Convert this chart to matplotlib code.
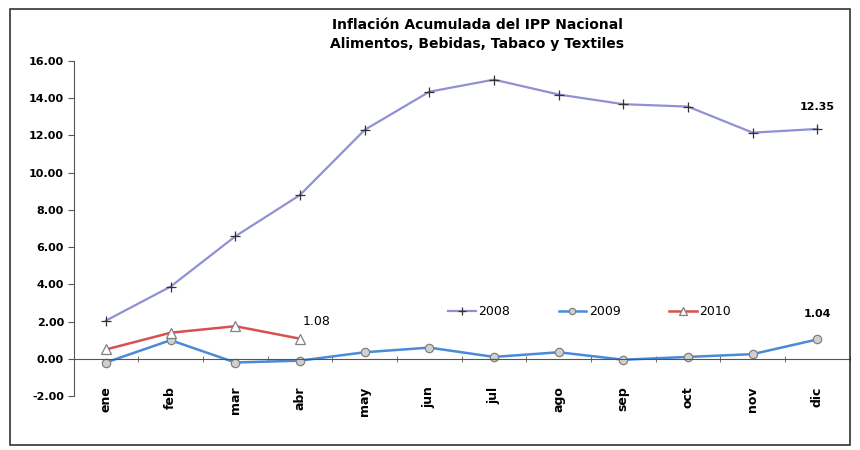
import numpy as np
import matplotlib.pyplot as plt
from matplotlib.patches import Rectangle

# data
meses = ["ene", "feb", "mar", "abr", "may", "jun", "jul", "ago", "sep", "oct", "nov", "dic"]
v2008 = [2.05, 3.88, 6.58, 8.80, 12.30, 14.35, 15.00, 14.20, 13.68, 13.55, 12.15, 12.35]
v2009 = [-0.20, 1.00, -0.20, -0.10, 0.35, 0.60, 0.10, 0.35, -0.05, 0.10, 0.25, 1.04]
v2010 = [0.50, 1.40, 1.75, 1.08]
yticks = np.arange(-2, 16.01, 2)

fig = plt.figure(figsize=(8.6, 4.5), dpi=100)
ax = fig.add_axes([0.0856, 0.12, 0.9024, 0.7444])

x = np.arange(len(meses))
ax.plot(x, v2008, color="#9090d4", lw=1.6, marker="+", ms=7, mec="#333333", mew=0.9, label="2008")
ax.plot(x, v2009, color="#4a8ad8", lw=1.8, marker="o", ms=6, mfc="#d0d0d0", mec="#808080", mew=0.9, label="2009")
ax.plot(x[:len(v2010)], v2010, color="#d95050", lw=1.8, marker="^", ms=7, mfc="white", mec="#808080", mew=0.9, label="2010")

# value labels
ax.annotate(f"{v2008[-1]:.2f}", (x[-1], v2008[-1]), xytext=(0, 14), textcoords="offset points",
            ha="center", fontsize=8, fontweight="bold")
ax.annotate(f"{v2010[-1]:.2f}", (x[len(v2010) - 1], v2010[-1]), xytext=(2, 10), textcoords="offset points",
            ha="left", fontsize=9)
ax.annotate(f"{v2009[-1]:.2f}", (x[-1], v2009[-1]), xytext=(0, 16), textcoords="offset points",
            ha="center", fontsize=8, fontweight="bold")

ax.set_xlim(-0.5, len(meses) - 0.5)
ax.set_ylim(-2, 16)
ax.set_yticks(yticks)
ax.set_yticklabels([f"{v:.2f}" for v in yticks], fontsize=8, fontweight="bold")

for s in ["top", "right"]:
    ax.spines[s].set_visible(False)
ax.spines["bottom"].set_position(("data", 0))
ax.spines["bottom"].set_color("#555555")
ax.spines["left"].set_color("#555555")
ax.set_xticks(x)
ax.set_xticklabels(meses, rotation=90, fontsize=9, fontweight="bold", va="top")
ax.tick_params(axis="x", which="major", length=0, pad=20)
ax.set_xticks(np.arange(-0.5, len(meses)), minor=True)
ax.tick_params(axis="x", which="minor", length=4, direction="inout", color="#555555")
ax.tick_params(axis="y", length=4, color="#555555", pad=3)

ax.legend(loc="upper left", bbox_to_anchor=(0.468, 0.305), ncol=3, frameon=False, fontsize=9,
          handlelength=2.2, columnspacing=3.9, handletextpad=0.2, markerscale=0.75)

fig.text(0.555, 0.935, "Inflación Acumulada del IPP Nacional", ha="center", fontsize=10, fontweight="bold")
fig.text(0.555, 0.893, "Alimentos, Bebidas, Tabaco y Textiles", ha="center", fontsize=10, fontweight="bold")

# chart frame
fig.patches.append(Rectangle((0.012, 0.012), 0.976, 0.968, transform=fig.transFigure,
                             fill=False, ec="#333333", lw=1.2))

fig.savefig("out.png", dpi=100)
